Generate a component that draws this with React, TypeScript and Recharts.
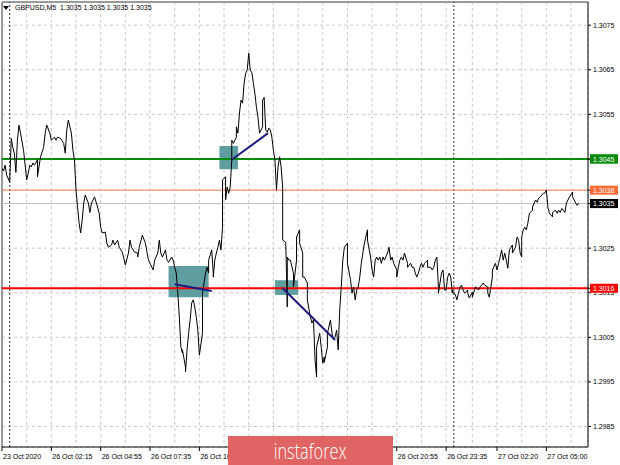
import {
  ComposedChart,
  Line,
  XAxis,
  YAxis,
  CartesianGrid,
  ReferenceLine,
  ReferenceArea,
} from 'recharts';

const FONT = '"Liberation Sans", Arial, sans-serif';

// M5 bar number (0 = first bar on screen) and close price
const bars = [
  0, 1, 2, 3, 5, 6, 7, 8, 9, 10, 11, 12, 14, 16, 17, 18, 19, 20, 21, 23, 23, 25, 27, 28, 29, 31, 32, 34, 35, 36,
  38, 40, 41, 42, 43, 45, 46, 47, 48, 49, 50, 51, 52, 53, 54, 56, 57, 58, 60, 62, 63, 64, 65, 67, 68, 69, 71, 72,
  73, 75, 76, 78, 79, 80, 82, 83, 84, 86, 88, 88, 89, 91, 93, 94, 95,
  98, 99, 101, 102, 103, 104, 106, 107, 108, 110, 111, 112, 113, 114, 115, 116, 117, 117, 119, 119, 120, 121, 122,
  123, 124, 125, 126, 127, 128, 130, 130, 132, 133, 134, 134, 136, 137, 137, 138, 139, 140, 141, 142, 143, 143, 145,
  145, 146, 147, 148, 149, 149, 150, 152, 152, 153, 154, 155, 156, 157, 158, 159, 160, 161, 162, 163, 164, 165, 166,
  167, 169, 169, 170, 171, 172, 173, 174, 175, 176, 177, 178, 179, 180, 181, 182, 182, 184, 185, 185, 186, 187, 189,
  189, 191, 191, 193,
  193, 195, 195, 196, 198, 198, 200, 201, 202, 203, 204, 204, 206, 207, 208, 209, 209, 211, 211, 213, 214, 215, 216,
  217, 218, 219, 220, 221, 222, 224, 224, 226, 227, 228, 229, 230, 231, 232, 233, 234, 235, 237, 237, 239, 240, 241,
  242, 243, 244, 245, 246, 247, 248, 250, 251, 252, 253, 254, 256, 256, 257, 258, 259, 260, 261, 263, 263, 265, 266,
  267, 268, 269, 270, 271, 272, 273, 274, 276, 276, 278, 279, 280, 281, 282, 283, 283, 285, 286, 287, 288, 289, 290,
  291, 292, 292, 294, 295, 296, 297, 298, 299, 300, 302, 302, 303, 305, 305, 307, 308, 309, 310, 311, 312, 313, 315,
  315, 316, 318, 318, 320, 321, 322, 323, 324, 325, 326, 327, 328, 329, 331, 331, 333, 334, 335, 336, 337, 337, 338,
  339, 340, 341, 342, 344, 344, 346, 347, 348, 349, 350, 351, 352, 353, 354, 355, 357, 357, 359, 360, 361, 362, 363,
  364, 365, 366, 367, 368, 370, 370, 372, 373, 374,
];

const closes = [
  1.30429, 1.30423, 1.30436, 1.30414, 1.30398, 1.30496, 1.30476, 1.30463, 1.3042, 1.30492, 1.30526, 1.30508, 1.30469,
  1.30403, 1.30418, 1.30436, 1.30432, 1.30441, 1.30436, 1.30448, 1.3041, 1.30455, 1.30476, 1.30508, 1.30526, 1.30508,
  1.30492, 1.30499, 1.30492, 1.30499, 1.30496, 1.30485, 1.30463, 1.30515, 1.30537, 1.30508, 1.30469, 1.30448, 1.3038,
  1.30342, 1.30306, 1.30284, 1.30313, 1.30351, 1.30369, 1.30351, 1.3033, 1.30351, 1.30365, 1.30342, 1.30328, 1.30297,
  1.30284, 1.30286, 1.30261, 1.30252, 1.30257, 1.30268, 1.30257, 1.30268, 1.30252, 1.30241, 1.30227, 1.30212, 1.30239,
  1.30268, 1.30252, 1.30241, 1.30239, 1.3023, 1.30252, 1.30279, 1.30261, 1.30241, 1.30223,
  1.30201, 1.30223, 1.30239, 1.30268, 1.30239, 1.3023, 1.30246, 1.30223, 1.30218, 1.3023, 1.30223, 1.30207, 1.30194,
  1.30149, 1.30095, 1.30028, 1.30015, 1.30022, 1.29983, 1.29972, 1.30022, 1.30059, 1.30089, 1.30127, 1.30134, 1.30118,
  1.30095, 1.30066, 1.3001, 1.30059, 1.30149, 1.30194, 1.30207, 1.30194, 1.30223, 1.30246, 1.30194, 1.30185, 1.30223,
  1.30239, 1.30252, 1.30268, 1.30246, 1.30297, 1.30403, 1.3041, 1.30358, 1.30387, 1.30373, 1.30387, 1.30448, 1.30492,
  1.30485, 1.30499, 1.30522, 1.30508, 1.30553, 1.30582, 1.30575, 1.3062, 1.30642, 1.30649, 1.30687, 1.30649, 1.30644,
  1.3062, 1.30597, 1.30566, 1.30543, 1.30508, 1.30522, 1.30582, 1.30588, 1.30515, 1.3051, 1.30519, 1.30515, 1.30499,
  1.30469, 1.30448, 1.3038, 1.30432, 1.30455, 1.30432, 1.30387, 1.30268, 1.30263, 1.30118, 1.3023, 1.30223, 1.30223,
  1.30194, 1.30163, 1.30223, 1.30275, 1.30291,
  1.30261, 1.30239, 1.30185, 1.30185, 1.30172, 1.30134, 1.30095, 1.30082, 1.30089, 1.29999, 1.29961, 1.30028, 1.30059,
  1.30028, 1.29992, 1.30006, 1.29994, 1.30028, 1.30059, 1.30089, 1.30059, 1.30044, 1.30051, 1.30066, 1.30022, 1.30111,
  1.30163, 1.30223, 1.30252, 1.30261, 1.30216, 1.30179, 1.30149, 1.30163, 1.30134, 1.30156, 1.30163, 1.30185, 1.30216,
  1.30239, 1.30261, 1.30291, 1.30268, 1.3023, 1.30201, 1.30185, 1.30223, 1.3023, 1.30223, 1.3023, 1.30216, 1.3023,
  1.30223, 1.30239, 1.30252, 1.30223, 1.3023, 1.30216, 1.30201, 1.30185, 1.30207, 1.30223, 1.3023, 1.30223, 1.30239,
  1.30216, 1.30207, 1.30216, 1.30207, 1.30207, 1.30194, 1.30185, 1.30194, 1.30207, 1.30216, 1.30207, 1.30216, 1.30223,
  1.30207, 1.30207, 1.30201, 1.30207, 1.30223, 1.3023, 1.30163, 1.30149, 1.30194, 1.30201, 1.30156, 1.30156, 1.30185,
  1.30194,
  1.30185, 1.30149, 1.30156, 1.30145, 1.30134, 1.30149, 1.30163, 1.30167, 1.30156, 1.30149, 1.30156, 1.30149, 1.30138,
  1.30151, 1.3014, 1.30163, 1.3016, 1.30156, 1.30163, 1.30167, 1.30172, 1.30167, 1.30163, 1.30149, 1.3014, 1.30185,
  1.30201, 1.30216, 1.30201, 1.30216, 1.3023, 1.30246, 1.30223, 1.30239, 1.30223, 1.30205, 1.30246, 1.30257, 1.30239,
  1.30252, 1.30275, 1.30268, 1.30239, 1.3023, 1.30275, 1.30291, 1.30297, 1.30291, 1.30306, 1.30328, 1.30335, 1.30342,
  1.30358, 1.30353, 1.30362, 1.30365, 1.30369, 1.30373, 1.30373, 1.3038, 1.30342, 1.30328, 1.3032, 1.3033, 1.30335,
  1.30328, 1.30335, 1.3033, 1.30339, 1.30335, 1.3033, 1.30351, 1.30358, 1.30365, 1.30376, 1.30365, 1.30351, 1.30346,
  1.30351,
];

const priceTicks = [1.2985, 1.2995, 1.3005, 1.3015, 1.3025, 1.3035, 1.3045, 1.3055, 1.3065, 1.3075];
const gridBars = [
  0, 16, 32, 48, 64, 80, 96, 112, 128, 144, 160, 176, 192, 208, 224, 240, 256, 272, 288, 305, 321, 337, 353, 369,
];
// labels under the watermark (12:55, 15:35, 18:15) are not visible in the source
const labelBars = [0, 32, 64, 96, 128, 256, 288, 321, 353];
const timeLabels = [
  '23 Oct 2020',
  '26 Oct 02:15',
  '26 Oct 04:55',
  '26 Oct 07:35',
  '26 Oct 10:15',
  '26 Oct 20:55',
  '26 Oct 23:35',
  '27 Oct 02:20',
  '27 Oct 05:00',
];
const daySeparators = [5, 293];

// horizontal levels: buy target, day high, bid, sell target
const levelPrices = [1.3045, 1.3038, 1.3035, 1.3016];

// entry zones (bar from/to, price low/high)
const zoneFrom = [108, 141, 177];
const zoneTo = [134, 153, 192];
const zoneLow = [1.3014, 1.30427, 1.30145];
const zoneHigh = [1.3021, 1.30479, 1.30178];

// trade arrows (start bar/price -> end bar/price)
const tradeStartBar = [112, 148.5, 182];
const tradeStartPrice = [1.30169, 1.30447, 1.3016];
const tradeEndBar = [136, 172.5, 216];
const tradeEndPrice = [1.30154, 1.30508, 1.30044];

const series = bars.map((b, i) => ({ bar: b, price: closes[i] }));

const levelColor = ['#0a8a0a', '#ff7f50', '#c0c0c0', '#ff0000'];
const levelTag = ['#0a8a0a', '#ff6a35', '#000000', '#ff0000'];
const levelWidth = [2, 1, 1, 2];

const PriceTick = (props: any) => {
  const { x, y, payload } = props;
  const v = payload.value as number;
  const li = levelPrices.findIndex((p) => Math.abs(p - v) < 1e-7);
  if (li >= 0) {
    return (
      <g>
        <rect x={x - 3} y={y - 4.5} width={28} height={9} fill={levelTag[li]} />
        <text x={x} y={y + 2.6} fontSize={7} fontFamily={FONT} fill="#fff">
          {v.toFixed(4)}
        </text>
      </g>
    );
  }
  // tick label sits completely under a level tag in the source
  if (levelPrices.some((p) => Math.abs(p - v) < 0.00005)) return <g />;
  return (
    <text x={x} y={y + 2.6} fontSize={7} fontFamily={FONT} fill="#000">
      {v.toFixed(4)}
    </text>
  );
};

const TimeTick = (props: any) => {
  const { x, y, payload } = props;
  const i = labelBars.indexOf(payload.value);
  if (i < 0) return <g />;
  return (
    <g>
      <line x1={x} x2={x} y1={y} y2={y + 4} stroke="#000" />
      <text x={x + 1} y={y + 12} fontSize={7} fontFamily={FONT} fill="#000" textAnchor="start">
        {timeLabels[i]}
      </text>
    </g>
  );
};

export default function App() {
  return (
    <div style={{ position: 'absolute', left: 0, top: 0, width: 620, height: 465, background: '#fff' }}>
      <ComposedChart width={620} height={465} data={series} margin={{ top: 2, right: 0, bottom: 0, left: 2 }}>
        <CartesianGrid stroke="#c8c8c8" strokeDasharray="3 3" />
        <XAxis
          dataKey="bar"
          type="number"
          domain={[0, 380]}
          allowDataOverflow
          ticks={gridBars}
          interval={0}
          height={18}
          tickSize={0}
          tickMargin={0}
          tickLine={false}
          axisLine={{ stroke: '#000' }}
          tick={<TimeTick />}
        />
        <YAxis
          orientation="right"
          type="number"
          domain={[1.29804, 1.30802]}
          allowDataOverflow
          ticks={[...priceTicks, ...levelPrices]}
          interval={0}
          width={32}
          tickSize={3}
          tickMargin={2}
          axisLine={{ stroke: '#000' }}
          tickLine={{ stroke: '#000' }}
          tick={<PriceTick />}
        />
        <ReferenceLine x={0} stroke="#9a9a9a" strokeWidth={2} />
        <ReferenceLine y={1.30802} stroke="#9a9a9a" strokeWidth={2} />
        {daySeparators.map((b) => (
          <ReferenceLine key={b} x={b} stroke="#333" strokeDasharray="2 2" />
        ))}
        {zoneFrom.map((b, i) => (
          <ReferenceArea
            key={'z' + i}
            x1={b}
            x2={zoneTo[i]}
            y1={zoneLow[i]}
            y2={zoneHigh[i]}
            fill="#5f9ea0"
            fillOpacity={1}
            stroke="none"
          />
        ))}
        {levelPrices.map((p, i) => (
          <ReferenceLine key={'l' + i} y={p} stroke={levelColor[i]} strokeWidth={levelWidth[i]} />
        ))}
        <Line
          dataKey="price"
          type="linear"
          stroke="#000"
          strokeWidth={1}
          dot={false}
          isAnimationActive={false}
        />
        {tradeStartBar.map((b, i) => (
          <ReferenceLine
            key={'t' + i}
            segment={[
              { x: b, y: tradeStartPrice[i] },
              { x: tradeEndBar[i], y: tradeEndPrice[i] },
            ]}
            stroke="#1c1c80"
            strokeWidth={2}
          />
        ))}
      </ComposedChart>
      <div
        style={{
          position: 'absolute',
          left: 3,
          top: 3,
          fontFamily: FONT,
          fontSize: 7,
          color: '#000',
          lineHeight: '10px',
          whiteSpace: 'pre',
          display: 'flex',
          alignItems: 'center',
        }}
      >
        <svg width={8} height={6} style={{ marginRight: 4 }}>
          <path d="M0 1 L6 1 L3 5 Z" fill="#000" />
        </svg>
        GBPUSD,M5  1.3035 1.3035 1.3035 1.3035
      </div>
      <div
        style={{
          position: 'absolute',
          left: 228,
          top: 436,
          width: 165,
          height: 29,
          background: '#e06464',
          display: 'flex',
          alignItems: 'center',
          justifyContent: 'center',
          overflow: 'hidden',
        }}
      >
        <span
          style={{
            fontFamily: '"Open Sans", sans-serif',
            fontWeight: 300,
            fontSize: 22,
            color: '#fff',
            transform: 'scaleX(0.74)',
            lineHeight: '29px',
          }}
        >
          instaforex
        </span>
      </div>
    </div>
  );
}
